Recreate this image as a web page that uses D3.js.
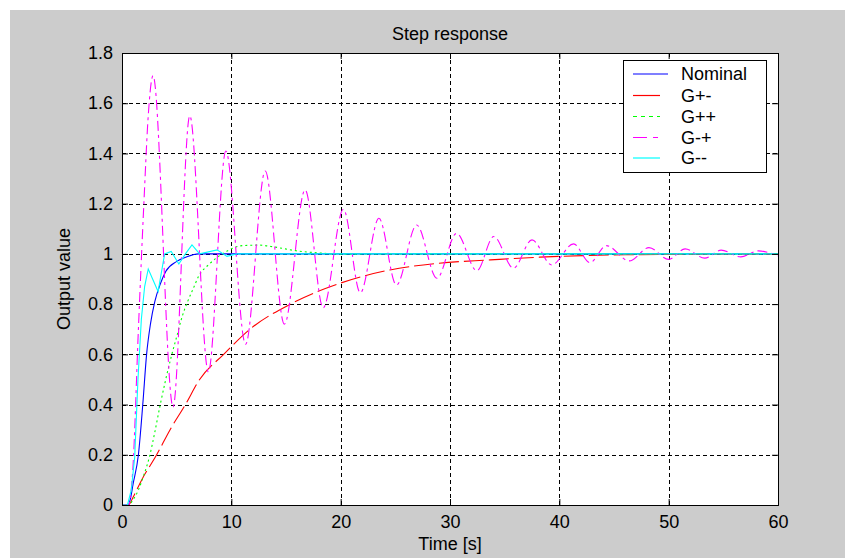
<!DOCTYPE html>
<html>
<head>
<meta charset="utf-8">
<script src="https://cdn.jsdelivr.net/npm/d3@7/dist/d3.min.js"></script>
<style>
  html, body { margin: 0; padding: 0; background: #ffffff; }
  svg text { font-family: "Liberation Sans", Arial, sans-serif; fill: #000; }
</style>
</head>
<body>
<script>
// step response data: [time, output]
var nominal = [[0,0],[0.55,0],[0.8,0.03],[1.0,0.08],[1.5,0.2],[1.9,0.4],[2.25,0.6],[2.6,0.72],[3.0,0.81],
  [3.5,0.88],[4.0,0.93],[5.0,0.97],[6.0,0.99],[7.0,1.0],[20,1.0],[40,1.0],[60,1.0]];
var gPlusMinus = [[0,0],[0.6,0],[1.0,0.03],[1.8,0.1],[3.17,0.2],[4.4,0.3],[5.8,0.4],[7.1,0.5],[9.3,0.6],
  [11.7,0.7],[15.4,0.8],[20,0.884],[24.5,0.936],[29,0.963],[33.7,0.976],[38.2,0.987],[42.2,0.993],
  [47,0.997],[52,0.999],[60,1.0]];
var gPlusPlus = [[0,0],[0.6,0],[1.0,0.02],[1.5,0.06],[2.0,0.12],[2.5,0.19],[3.0,0.29],[3.5,0.4],[4.0,0.5],
  [4.5,0.59],[5.0,0.67],[5.5,0.75],[6.0,0.81],[6.5,0.86],[7.0,0.91],[8.0,0.96],[9.0,0.995],[10,1.02],
  [11,1.033],[12.5,1.035],[14,1.027],[16,1.012],[18,1.004],[20,0.999],[25,1.0],[60,1.0]];
var gMinusPlus = [[0,0],[0.6,0],[1.0,0.15],[1.5,0.7],[2.0,1.2],[2.4,1.55],[2.84,1.71],[4.67,0.39],
  [6.2,1.55],[7.9,0.53],[9.5,1.41],[11.3,0.64],[13.1,1.33],[14.85,0.72],[16.75,1.255],[18.4,0.785],
  [20.25,1.178],[21.8,0.845],[23.5,1.142],[25.1,0.876],[26.95,1.115],[28.8,0.903],[30.6,1.082],
  [32.45,0.933],[34,1.069],[35.8,0.943],[37.5,1.056],[39.3,0.956],[41.3,1.04],[42.8,0.965],
  [44.3,1.033],[46.4,0.972],[48.2,1.025],[50,0.978],[51.5,1.02],[53.3,0.983],[54.8,1.015],
  [56.6,0.988],[58.2,1.012],[60,0.992]];
var gMinusMinus = [[0,0],[0.5,0],[0.85,0.06],[1.16,0.19],[1.46,0.5],[1.77,0.74],[2.07,0.87],[2.4,0.94],
  [2.8,0.9],[3.3,0.85],[3.9,1.0],[4.5,1.01],[5.2,0.96],[5.8,1.0],[6.4,1.036],[7.1,1.0],[8.7,1.016],
  [9.6,0.99],[10.5,1.0],[60,1.0]];

var seriesNames = ["Nominal", "G+-", "G++", "G-+", "G--"];
var seriesData = [nominal, gPlusMinus, gPlusPlus, gMinusPlus, gMinusMinus];
var seriesColors = ["#0000ff", "#ff0000", "#00ff00", "#ff00ff", "#00ffff"];

var xTicks = [0, 10, 20, 30, 40, 50, 60];
var yTicks = [0, 0.2, 0.4, 0.6, 0.8, 1, 1.2, 1.4, 1.6, 1.8];
var yTickLabels = ["0", "0.2", "0.4", "0.6", "0.8", "1", "1.2", "1.4", "1.6", "1.8"];

var W = 845, H = 558;
var plot = {left: 122, right: 778, top: 53, bottom: 505};

var svg = d3.select("body").append("svg")
    .attr("width", W).attr("height", H);

// figure background
svg.append("rect").attr("x", 10).attr("y", 10)
    .attr("width", W - 10).attr("height", H - 10)
    .attr("fill", "#cccccc");

var x = d3.scaleLinear().domain([0, 60]).range([plot.left, plot.right]);
var y = d3.scaleLinear().domain([0, 1.8]).range([plot.bottom, plot.top]);

svg.append("rect")
    .attr("x", plot.left).attr("y", plot.top)
    .attr("width", plot.right - plot.left).attr("height", plot.bottom - plot.top)
    .attr("fill", "#ffffff");

svg.append("clipPath").attr("id", "clip").append("rect")
    .attr("x", plot.left).attr("y", plot.top)
    .attr("width", plot.right - plot.left).attr("height", plot.bottom - plot.top);

// grid
var grid = svg.append("g").attr("stroke", "#000").attr("stroke-width", 1)
    .attr("stroke-dasharray", "4,3").attr("shape-rendering", "crispEdges");
grid.selectAll(".gx").data(xTicks.slice(1, -1)).enter().append("line")
    .attr("x1", function(d) { return Math.round(x(d)) + 0.5; })
    .attr("x2", function(d) { return Math.round(x(d)) + 0.5; })
    .attr("y1", plot.top).attr("y2", plot.bottom);
grid.selectAll(".gy").data(yTicks.slice(1, -1)).enter().append("line")
    .attr("y1", function(d) { return Math.round(y(d)) + 0.5; })
    .attr("y2", function(d) { return Math.round(y(d)) + 0.5; })
    .attr("x1", plot.left).attr("x2", plot.right);

// curves
var curves = svg.append("g").attr("clip-path", "url(#clip)").attr("fill", "none");
var dashes = [null, "20,5", "2,3", "10,4,3,4", null];
var interp = [d3.curveMonotoneX, d3.curveMonotoneX, d3.curveMonotoneX, d3.curveMonotoneX, d3.curveLinear];
seriesData.forEach(function(data, i) {
    var line = d3.line()
        .x(function(d) { return x(d[0]); })
        .y(function(d) { return y(d[1]); })
        .curve(interp[i]);
    curves.append("path")
        .attr("d", line(data))
        .attr("stroke", seriesColors[i])
        .attr("stroke-width", 1.1)
        .attr("stroke-dasharray", dashes[i]);
});

// axes, ticks inside like matlab box
var axB = d3.axisBottom(x).tickValues(xTicks).tickSize(-6).tickPadding(10);
var axL = d3.axisLeft(y).tickValues(yTicks).tickSize(-6).tickPadding(9)
    .tickFormat(function(d, i) { return yTickLabels[i]; });
var axT = d3.axisTop(x).tickValues(xTicks).tickSize(-6).tickFormat("");
var axR = d3.axisRight(y).tickValues(yTicks).tickSize(-6).tickFormat("");

function styleAxis(g) {
    g.select(".domain").attr("stroke", "#000");
    g.selectAll(".tick line").attr("stroke", "#000");
    g.selectAll("text").attr("font-size", 18).attr("fill", "#000")
        .attr("font-family", "Liberation Sans, Arial, sans-serif");
}
svg.append("g").attr("transform", "translate(0," + plot.bottom + ")").call(axB).call(styleAxis);
svg.append("g").attr("transform", "translate(" + plot.left + ",0)").call(axL).call(styleAxis);
svg.append("g").attr("transform", "translate(0," + plot.top + ")").call(axT).call(styleAxis);
svg.append("g").attr("transform", "translate(" + plot.right + ",0)").call(axR).call(styleAxis);

// titles
svg.append("text").attr("x", (plot.left + plot.right) / 2).attr("y", 40)
    .attr("text-anchor", "middle").attr("font-size", 18).text("Step response");
svg.append("text").attr("x", (plot.left + plot.right) / 2).attr("y", 550)
    .attr("text-anchor", "middle").attr("font-size", 18).text("Time [s]");
svg.append("text").attr("transform", "translate(70," + ((plot.top + plot.bottom) / 2) + ") rotate(-90)")
    .attr("text-anchor", "middle").attr("font-size", 18).text("Output value");

// legend
var leg = svg.append("g");
leg.append("rect").attr("x", 623.5).attr("y", 60.5).attr("width", 143).attr("height", 112)
    .attr("fill", "#fff").attr("stroke", "#000");
var legY = [74, 95.5, 116.5, 137.5, 158];
var legLen = [35, 27, 27, 27, 27];
var legDash = [null, null, "4,4", "14,6,5,6", null];
seriesNames.forEach(function(name, i) {
    leg.append("line").attr("x1", 633).attr("x2", 633 + legLen[i])
        .attr("y1", legY[i]).attr("y2", legY[i])
        .attr("stroke", seriesColors[i]).attr("stroke-width", 1.2)
        .attr("stroke-dasharray", legDash[i]);
    leg.append("text").attr("x", 681).attr("y", legY[i]).attr("dy", "0.35em")
        .attr("font-size", 18).text(name);
});
</script>
</body>
</html>
